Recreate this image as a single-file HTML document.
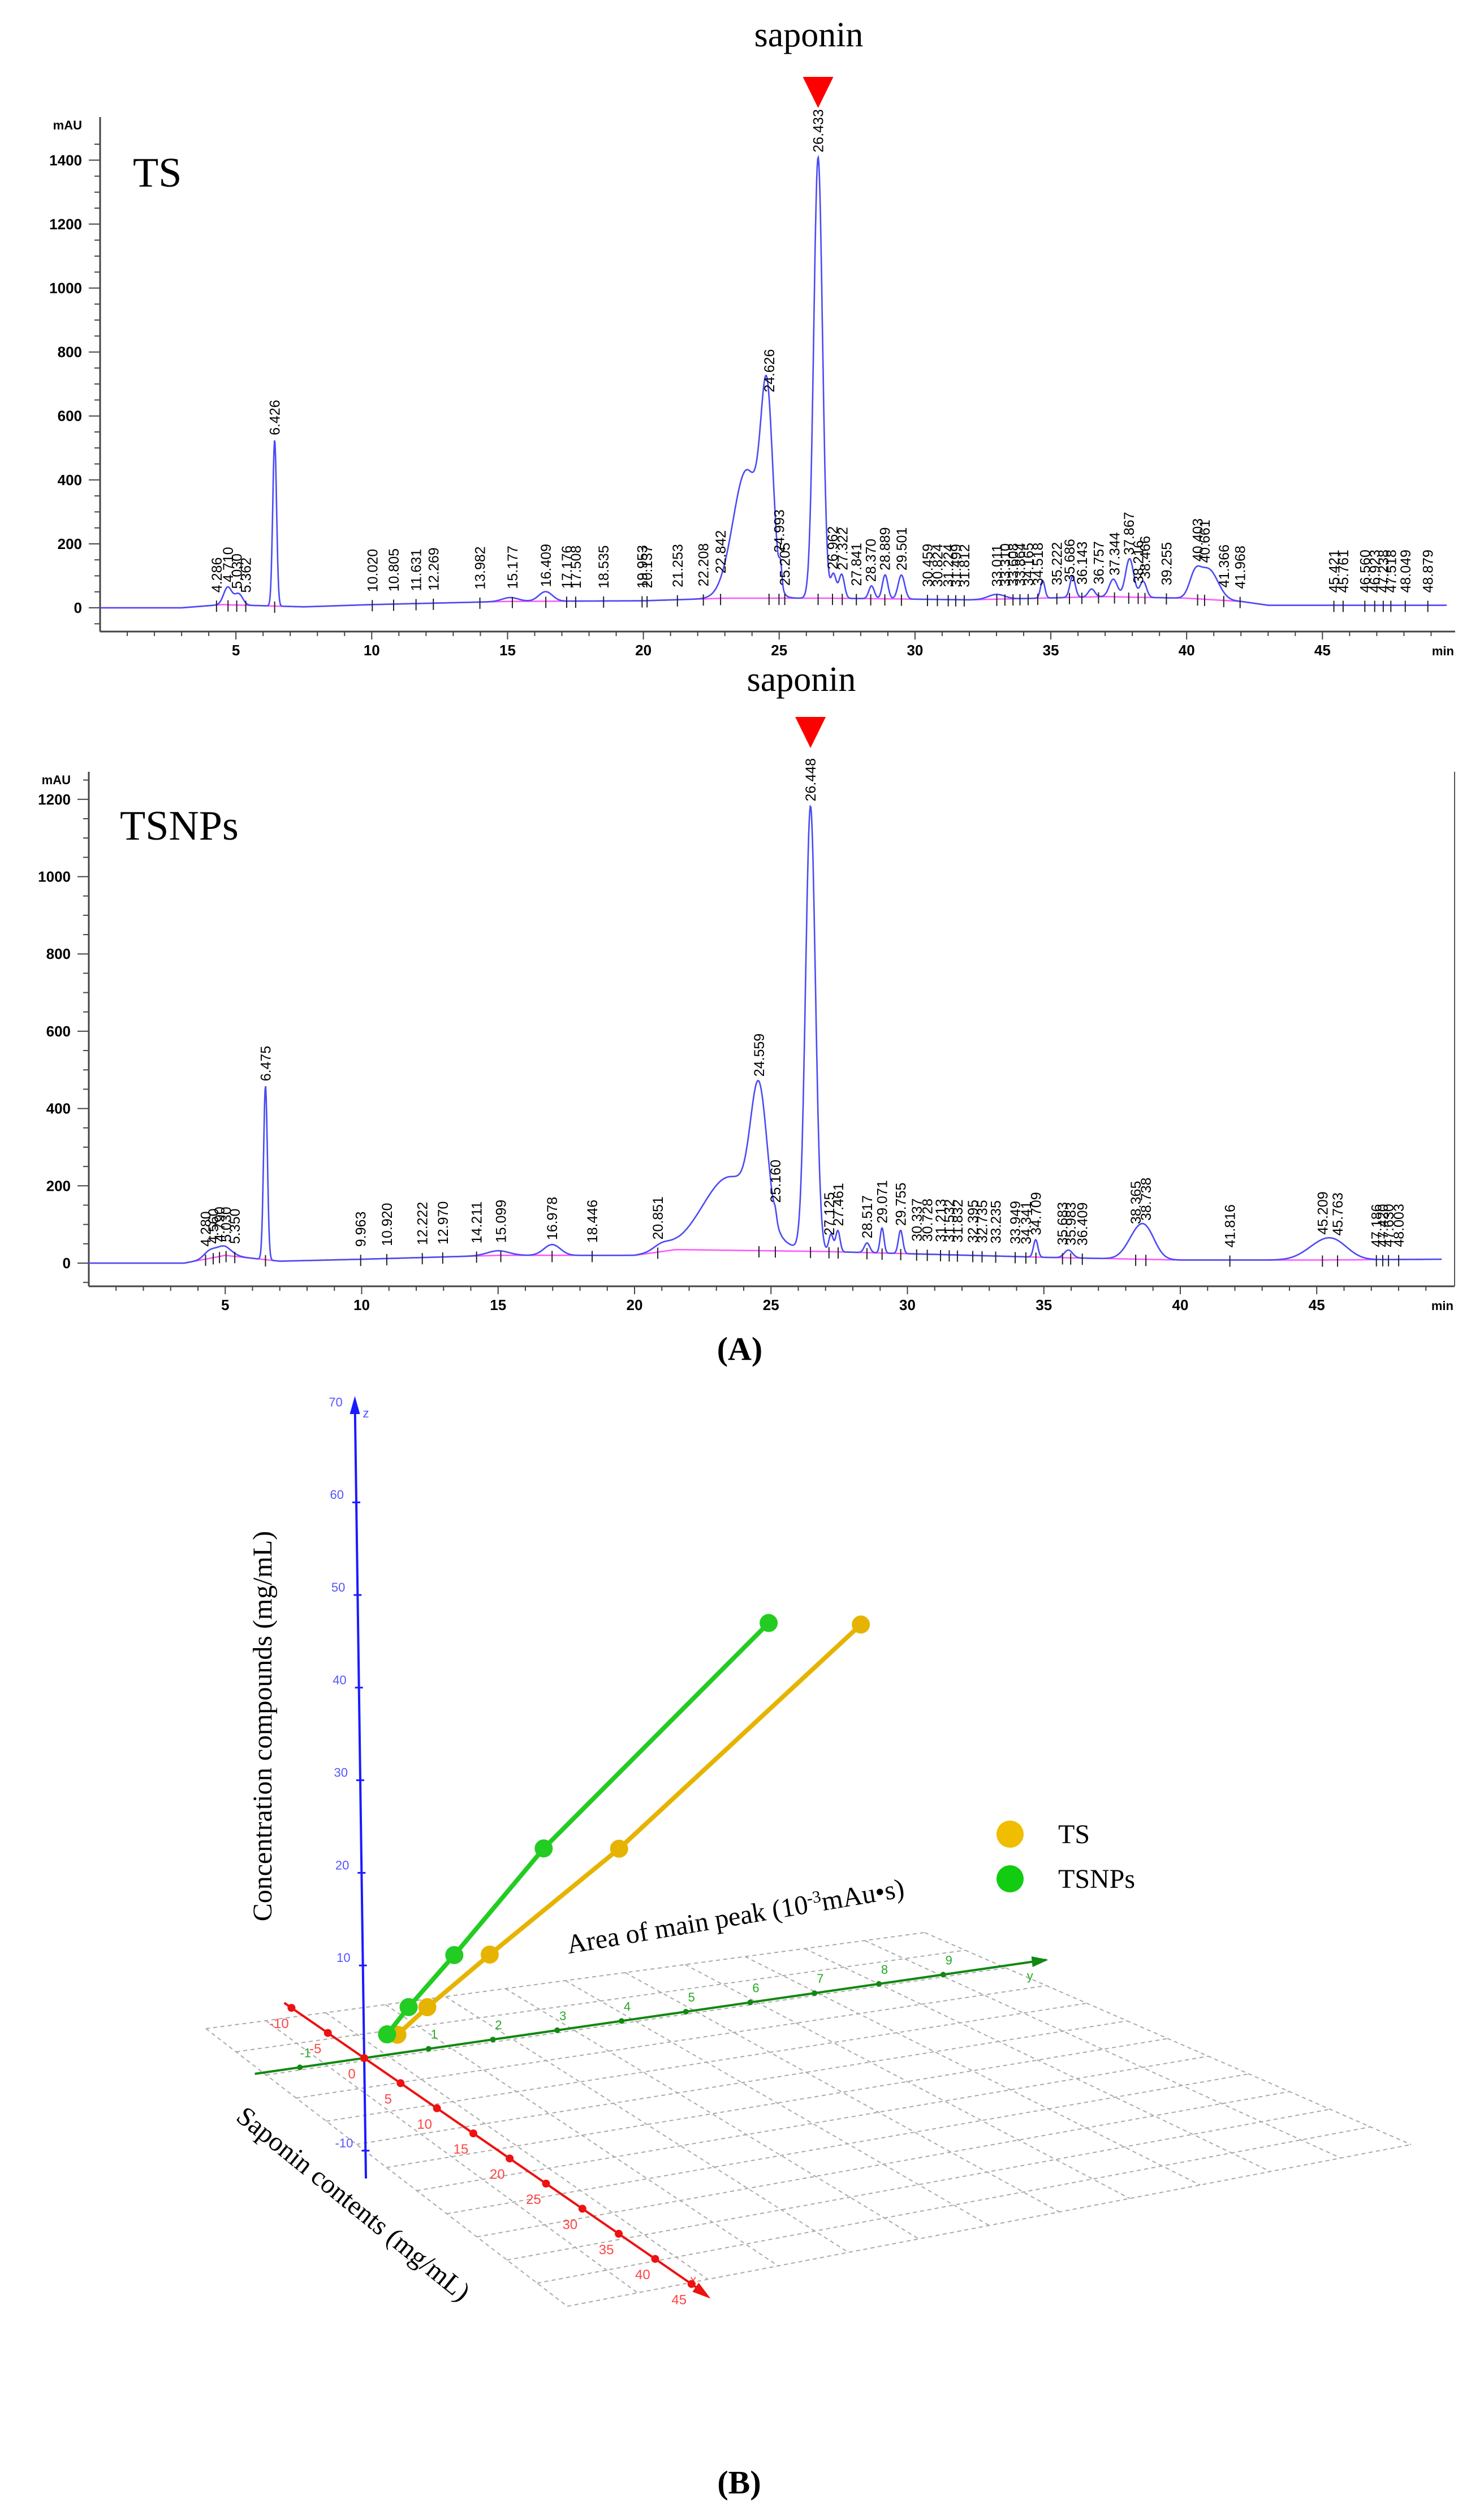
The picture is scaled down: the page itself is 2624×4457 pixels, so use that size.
<!DOCTYPE html>
<html><head><meta charset="utf-8"><style>
html,body{margin:0;padding:0;background:#fff;}
svg{display:block;}
</style></head><body>
<svg id="fig" width="2624" height="4457" viewBox="0 0 2624 4457" xmlns="http://www.w3.org/2000/svg">
<rect width="2624" height="4457" fill="#fff"/>
<g id="chartA1"></g>
<g id="chartA2"></g>
<text x="1308" y="2405" font-family="Liberation Serif, serif" font-size="58" font-weight="bold" text-anchor="middle">(A)</text>
<g id="chartB"></g>
<text x="1307" y="4410" font-family="Liberation Serif, serif" font-size="58" font-weight="bold" text-anchor="middle">(B)</text>
</svg>
<script>
// ---------- Chromatogram data ----------
const tsYTicks = [0,200,400,600,800,1000,1200,1400];
const tsBaseT = [0,3,4.5,7.5,10,15,20,23,27,32,37,40,42,43,49.5];
const tsBaseV = [0,0,10,3,10,20,22,30,30,25,35,30,20,8,8];
const tsPeakT = [4.7,5.1,6.426,15.1,16.4,23.8,24.55,25.05,26.433,27.0,27.3,28.4,28.9,29.5,33.0,34.7,35.8,36.5,37.3,37.9,38.4,40.3,40.8];
const tsPeakH = [55,35,520,12,30,400,560,60,1380,75,75,40,75,75,15,55,65,25,55,120,50,60,95];
const tsPeakW = [0.15,0.15,0.07,0.3,0.25,0.5,0.22,0.05,0.16,0.1,0.1,0.1,0.1,0.12,0.3,0.08,0.1,0.12,0.15,0.15,0.12,0.2,0.35];
const tsLabels = ["4.286","4.710","5.030","5.362","6.426","10.020","10.805","11.631","12.269","13.982","15.177","16.409","17.176","17.508","18.535","19.953","20.137","21.253","22.208","22.842","24.626","24.993","25.205","26.433","26.962","27.322","27.841","28.370","28.889","29.501","30.459","30.824","31.224","31.499","31.812","33.011","33.310","33.608","33.864","34.165","34.518","35.222","35.686","36.143","36.757","37.344","37.867","38.216","38.466","39.255","40.403","40.661","41.366","41.968","45.421","45.761","46.560","46.923","47.238","47.518","48.049","48.879"];

const npYTicks = [0,200,400,600,800,1000,1200];
const npBaseT = [0,3.5,5,7,10,15,20,21.5,27,35,40,45,49.5];
const npBaseV = [0,0,20,5,10,20,20,35,30,15,8,8,10];
const npPeakT = [4.4,4.9,6.475,15.0,16.98,21.0,23.5,24.56,25.16,26.448,27.2,27.45,28.52,29.07,29.75,34.7,35.9,38.3,38.74,45.2,45.76];
const npPeakH = [15,25,450,12,28,15,190,330,20,1150,45,55,25,65,60,45,20,40,70,40,25];
const npPeakW = [0.2,0.3,0.07,0.4,0.3,0.3,1.0,0.3,0.05,0.18,0.08,0.08,0.1,0.07,0.08,0.08,0.15,0.35,0.35,0.6,0.5];
const npLabels = ["4.280","4.560","4.790","5.030","5.350","6.475","9.963","10.920","12.222","12.970","14.211","15.099","16.978","18.446","20.851","24.559","25.160","26.448","27.125","27.461","28.517","29.071","29.755","30.337","30.728","31.213","31.532","31.832","32.395","32.735","33.235","33.949","34.341","34.709","35.683","35.983","36.409","38.365","38.738","41.816","45.209","45.763","47.186","47.420","47.630","48.003"];
const xTicks = [5,10,15,20,25,30,35,40,45];

// ---------- 3D chart data ----------
const tsArea = [0.52,0.99,1.97,4.0,7.8];
const tsConc = [2.0,4.5,9.2,18.6,39.0];
const npArea = [0.36,0.70,1.42,2.83,6.37];
const npConc = [2.2,4.8,9.7,19.8,40.6];
const zTicks = [-10,10,20,30,40,50,60,70];
const yTicks3 = [-1,1,2,3,4,5,6,7,8,9];
const xTicks3 = [-10,-5,0,5,10,15,20,25,30,35,40,45];

const NS="http://www.w3.org/2000/svg";
function mk(tag,attrs,parent,txt){const e=document.createElementNS(NS,tag);for(const k in attrs)e.setAttribute(k,attrs[k]);if(txt!==undefined)e.textContent=txt;parent.appendChild(e);return e;}
function interp(xs,ys,x){if(x<=xs[0])return ys[0];for(let i=1;i<xs.length;i++){if(x<=xs[i]){const f=(x-xs[i-1])/(xs[i]-xs[i-1]);return ys[i-1]+f*(ys[i]-ys[i-1]);}}return ys[ys.length-1];}

function drawChrom(g,cfg){
  const X=t=>cfg.x0+t*cfg.xs, Y=v=>cfg.y0-v*cfg.ys;
  const base=t=>interp(cfg.bT,cfg.bV,t);
  const sig=t=>{let v=base(t);for(let i=0;i<cfg.pT.length;i++){const d=(t-cfg.pT[i])/cfg.pW[i];v+=cfg.pH[i]*Math.exp(-0.5*d*d);}return v;};
  let e;
  e=mk('line',{x1:X(0),y1:cfg.top,x2:X(0),y2:cfg.axisY,stroke:'#444','stroke-width':3},g);
  
  
  e=mk('line',{x1:X(0),y1:cfg.axisY,x2:cfg.right,y2:cfg.axisY,stroke:'#444','stroke-width':3},g);
  
  
  if(cfg.rightLine){e=mk('line',{x1:cfg.right,y1:cfg.top,x2:cfg.right,y2:cfg.axisY,stroke:'#555','stroke-width':2},g);
  
  }
  const ymax=cfg.yTicks[cfg.yTicks.length-1]+50;
  for(let v=-50;v<=ymax;v+=50){const major=v%200===0;
    if(Y(v)<cfg.top||Y(v)>cfg.axisY)continue;
    mk('line',{x1:X(0)-(major?20:10),y1:Y(v),x2:X(0),y2:Y(v),stroke:'#444','stroke-width':2},g);}
  cfg.yTicks.forEach(v=>{e=mk('text',{x:X(0)-32,y:Y(v)+9,'font-family':'Liberation Sans, sans-serif','font-size':26,'font-weight':'bold','text-anchor':'end'},g,String(v));
    
    });
  e=mk('text',{x:X(0)-32,y:cfg.top+22,'font-family':'Liberation Sans, sans-serif','font-size':22,'font-weight':'bold','text-anchor':'end'},g,'mAU');
  
  
  for(let t=1;t<=49;t++){const major=t%5===0;mk('line',{x1:X(t),y1:cfg.axisY,x2:X(t),y2:cfg.axisY+(major?14:8),stroke:'#444','stroke-width':2},g);}
  xTicks.forEach(t=>{e=mk('text',{x:X(t),y:cfg.axisY+42,'font-family':'Liberation Sans, sans-serif','font-size':26,'font-weight':'bold','text-anchor':'middle'},g,String(t));
    
    });
  e=mk('text',{x:cfg.right-2,y:cfg.axisY+42,'font-family':'Liberation Sans, sans-serif','font-size':22,'font-weight':'bold','text-anchor':'end'},g,'min');
  
  
  let pb='';for(let t=0;t<=49.5;t+=0.25){pb+=(pb?'L':'M')+X(t).toFixed(1)+','+Y(base(t)).toFixed(1);}
  e=mk('path',{d:pb,fill:'none',stroke:'#ff55ff','stroke-width':2.5},g);
  
  
  let d='';for(let t=0;t<=49.6;t+=0.02){d+=(d?'L':'M')+X(t).toFixed(1)+','+Y(sig(t)).toFixed(1);}
  e=mk('path',{d:d,fill:'none',stroke:'#4a4af5','stroke-width':2.6},g);
  
  
  cfg.labels.forEach(s=>{const t=parseFloat(s);const x=X(t);const yb=Y(base(t));
    mk('line',{x1:x,y1:yb-8,x2:x,y2:yb+12,stroke:'#222','stroke-width':2},g);
    const y=Math.min(Y(sig(t))-8,yb-22);
    e=mk('text',{x:0,y:0,transform:`translate(${(x+9).toFixed(1)},${y.toFixed(1)}) rotate(-90)`,'font-family':'Liberation Sans, sans-serif','font-size':25,'text-anchor':'start'},g,s);
    
    });
  e=mk('text',{x:cfg.sapX,y:cfg.sapY,'font-family':'Liberation Serif, serif','font-size':62,'text-anchor':'middle'},g,'saponin');
  
  
  const tx=X(cfg.mainT);
  e=mk('polygon',{points:`${tx-27},${cfg.triTop} ${tx+27},${cfg.triTop} ${tx},${cfg.triTop+55}`,fill:'#f00'},g);
  
  
  e=mk('text',{x:cfg.nameX,y:cfg.nameY,'font-family':'Liberation Serif, serif','font-size':74},g,cfg.name);
  
  
}

drawChrom(document.getElementById('chartA1'),{x0:177,xs:48.03,y0:1075,ys:0.5655,top:207,axisY:1117,right:2573,rightLine:false,
  yTicks:tsYTicks,bT:tsBaseT,bV:tsBaseV,pT:tsPeakT,pH:tsPeakH,pW:tsPeakW,labels:tsLabels,
  sapX:1430,sapY:82,mainT:26.433,triTop:136,name:'TS',nameX:235,nameY:330});
drawChrom(document.getElementById('chartA2'),{x0:157,xs:48.25,y0:2234,ys:0.6835,top:1365,axisY:2275,right:2572,rightLine:true,
  yTicks:npYTicks,bT:npBaseT,bV:npBaseV,pT:npPeakT,pH:npPeakH,pW:npPeakW,labels:npLabels,
  sapX:1417,sapY:1222,mainT:26.448,triTop:1268,name:'TSNPs',nameX:212,nameY:1485});

// ---------- 3D chart ----------
(function(){
  const g=document.getElementById('chartB');
  const O=[644,3640], EX=[12.86,8.88], EY=[113.75,-16.4], EZ=[-0.233,-16.38];
  const P=(x,y,z)=>[O[0]+x*EX[0]+y*EY[0]+z*EZ[0], O[1]+x*EX[1]+y*EY[1]+z*EZ[1]];
  let e;
  // perspective ground grid (bilinear between corners)
  const A=[364,3588], D=[1635,3418], C=[2495,3793], B=[1003,4079];
  const Q=(u,v)=>{const x=(1-u)*(1-v)*A[0]+u*(1-v)*B[0]+u*v*C[0]+(1-u)*v*D[0];
                  const y=(1-u)*(1-v)*A[1]+u*(1-v)*B[1]+u*v*C[1]+(1-u)*v*D[1];return [x,y];};
  const N=12;
  for(let i=0;i<=N;i++){
    let a=Q(i/N,0),b=Q(i/N,1);
    e=mk('line',{x1:a[0],y1:a[1],x2:b[0],y2:b[1],stroke:'#aaa','stroke-width':2,'stroke-dasharray':'7 6'},g);
    
    
    a=Q(0,i/N);b=Q(1,i/N);
    e=mk('line',{x1:a[0],y1:a[1],x2:b[0],y2:b[1],stroke:'#aaa','stroke-width':2,'stroke-dasharray':'7 6'},g);
    
    
  }
  // z axis (blue)
  let a=P(0,0,-13),b=P(0,0,71);
  e=mk('line',{x1:a[0],y1:a[1],x2:b[0],y2:b[1],stroke:'#1a1aff','stroke-width':4},g);
  
  
  mk('polygon',{points:`${b[0]-9},${b[1]+24} ${b[0]+9},${b[1]+24} ${b[0]},${b[1]-8}`,fill:'#1a1aff'},g);
  mk('text',{x:b[0]+14,y:b[1]+30,fill:'#5555ff','font-family':'Liberation Sans, sans-serif','font-size':22},g,'z');
  zTicks.forEach(v=>{const p=P(0,0,v);
    if(v<70)mk('line',{x1:p[0]-7,y1:p[1],x2:p[0]+7,y2:p[1],stroke:'#1a1aff','stroke-width':3},g);
    e=mk('text',{x:p[0]-22,y:p[1]-6,fill:'#5555ff','font-family':'Liberation Sans, sans-serif','font-size':22,'text-anchor':'end'},g,String(v));
    
    });
  // y axis (green)
  a=P(0,-1.7,0);b=P(0,10.6,0);
  e=mk('line',{x1:a[0],y1:a[1],x2:b[0],y2:b[1],stroke:'#118811','stroke-width':4},g);
  
  
  mk('polygon',{points:`${b[0]-26},${b[1]-6} ${b[0]-24},${b[1]+13} ${b[0]+4},${b[1]}`,fill:'#118811'},g);
  mk('text',{x:b[0]-34,y:b[1]+36,fill:'#22aa22','font-family':'Liberation Sans, sans-serif','font-size':22},g,'y');
  yTicks3.forEach(v=>{const p=P(0,v,0);
    mk('circle',{cx:p[0],cy:p[1],r:5,fill:'#118811'},g);
    e=mk('text',{x:p[0]+10,y:p[1]-18,fill:'#22aa22','font-family':'Liberation Sans, sans-serif','font-size':22,'text-anchor':'middle'},g,String(v));
    
    });
  // x axis (red)
  a=P(-11,0,0);b=P(47,0,0);
  e=mk('line',{x1:a[0],y1:a[1],x2:b[0],y2:b[1],stroke:'#ee1111','stroke-width':4},g);
  
  
  mk('polygon',{points:`${b[0]-24},${b[1]-4} ${b[0]-13},${b[1]-20} ${b[0]+8},${b[1]+8}`,fill:'#ee1111'},g);
  mk('text',{x:b[0]-28,y:b[1]-18,fill:'#ff4444','font-family':'Liberation Sans, sans-serif','font-size':22},g,'x');
  xTicks3.forEach(v=>{const p=P(v,0,0);
    mk('circle',{cx:p[0],cy:p[1],r:7,fill:'#ee1111'},g);
    e=mk('text',{x:p[0]-22,y:p[1]+36,fill:'#ff4444','font-family':'Liberation Sans, sans-serif','font-size':24,'text-anchor':'middle'},g,String(v));
    
    });
  function series(area,conc,col,name){
    let d='';area.forEach((v,i)=>{const p=P(0,v,conc[i]);d+=(d?'L':'M')+p[0].toFixed(1)+','+p[1].toFixed(1);});
    e=mk('path',{d:d,fill:'none',stroke:col,'stroke-width':8},g);
    
    
    area.forEach((v,i)=>{const p=P(0,v,conc[i]);
      e=mk('circle',{cx:p[0],cy:p[1],r:16,fill:col},g);
      
      });
  }
  series(tsArea,tsConc,'#e6b400','ts');
  series(npArea,npConc,'#22cc22','tsnps');
  e=mk('text',{x:0,y:0,transform:'translate(480,3053) rotate(-90)','font-family':'Liberation Serif, serif','font-size':48,'text-anchor':'middle'},g,'Concentration compounds (mg/mL)');
  
  
  e=mk('text',{x:0,y:0,transform:'translate(1303,3405) rotate(-9.6)','font-family':'Liberation Serif, serif','font-size':48,'text-anchor':'middle'},g);
  
  
  e.innerHTML='Area of main peak (10<tspan dy="-16" font-size="30">-3</tspan><tspan dy="16">mAu•s)</tspan>';
  e=mk('text',{x:0,y:0,transform:'translate(615,3910) rotate(39)','font-family':'Liberation Serif, serif','font-size':48,'text-anchor':'middle'},g,'Saponin contents (mg/mL)');
  
  
  e=mk('circle',{cx:1786,cy:3244,r:24,fill:'#f0bd00'},g);
  
  
  e=mk('text',{x:1871,y:3260,'font-family':'Liberation Serif, serif','font-size':48},g,'TS');
  
  
  e=mk('circle',{cx:1786,cy:3323,r:24,fill:'#11cc11'},g);
  
  
  e=mk('text',{x:1871,y:3339,'font-family':'Liberation Serif, serif','font-size':48},g,'TSNPs');
  
  
})();
</script>
</body></html>
